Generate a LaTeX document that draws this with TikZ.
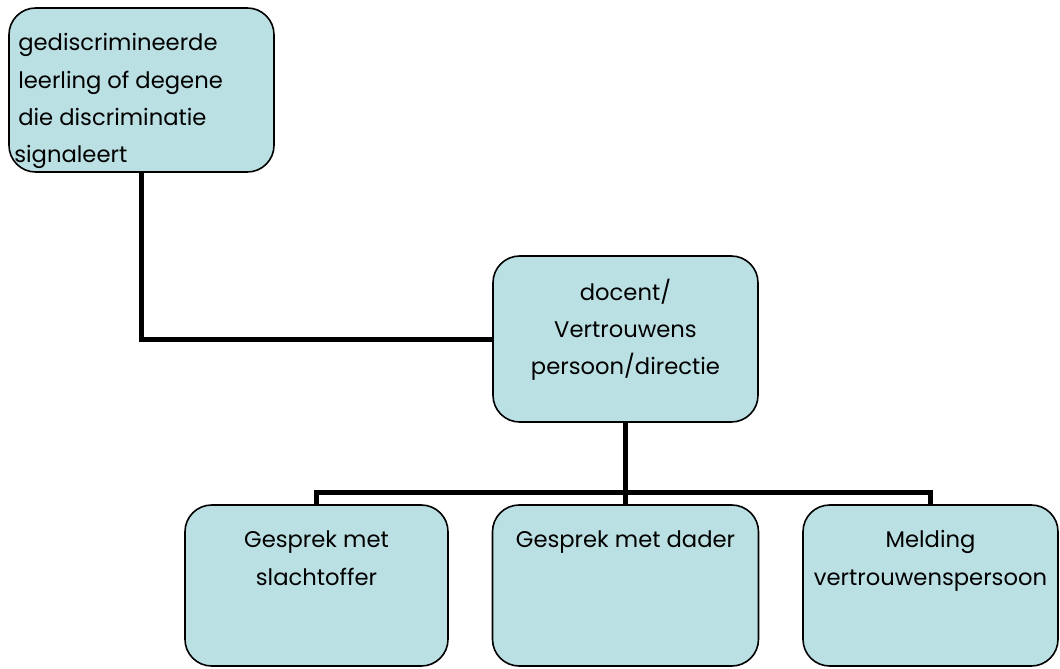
\documentclass[tikz,border=0pt]{standalone}
\usepackage{fontspec}
\setmainfont{Poppins}
\definecolor{boxfill}{HTML}{BBE0E3}
\begin{document}
\begin{tikzpicture}[x=0.75pt,y=-0.75pt,
  box/.style={draw=black, line width=1.2pt, fill=boxfill, rounded corners=20pt, inner sep=0pt},
  conn/.style={draw=black, line width=3.75pt, line join=miter}]
\useasboundingbox (0,0) rectangle (1060,668);
\fontsize{17}{28}\selectfont
\node[box] (b1) at (141.5,90) {\parbox[b][123pt][t]{198.75pt}{\raggedright\hspace*{7pt}\rule{0pt}{32pt}gediscrimineerde\\\hspace*{7pt}leerling of degene\\\hspace*{7pt}die discriminatie\\\hspace*{4pt}signaleert}};
\node[box] (b2) at (625.5,339) {\parbox[b][124.5pt][t]{198.75pt}{\centering\rule{0pt}{33pt}docent/\\Vertrouwens\\persoon/directie}};
\node[box] (bA) at (316.5,585.5) {\parbox[b][120.75pt][t]{197.25pt}{\centering\rule{0pt}{32pt}Gesprek met\\slachtoffer}};
\node[box] (bB) at (625.5,585.5) {\parbox[b][120.75pt][t]{199.5pt}{\centering\rule{0pt}{32pt}Gesprek met dader}};
\node[box] (bC) at (930.5,585.5) {\parbox[b][120.75pt][t]{191.25pt}{\centering\rule{0pt}{32pt}Melding\\vertrouwenspersoon}};
\coordinate (j) at (625.5,492);
\draw[conn] (b1.south) |- (b2.west);
\draw[conn] (b2.south) -- (j);
\draw[conn] (bA.north) |- (j) -| (bC.north);
\draw[conn] (j) -- (bB.north);
\end{tikzpicture}
\end{document}
